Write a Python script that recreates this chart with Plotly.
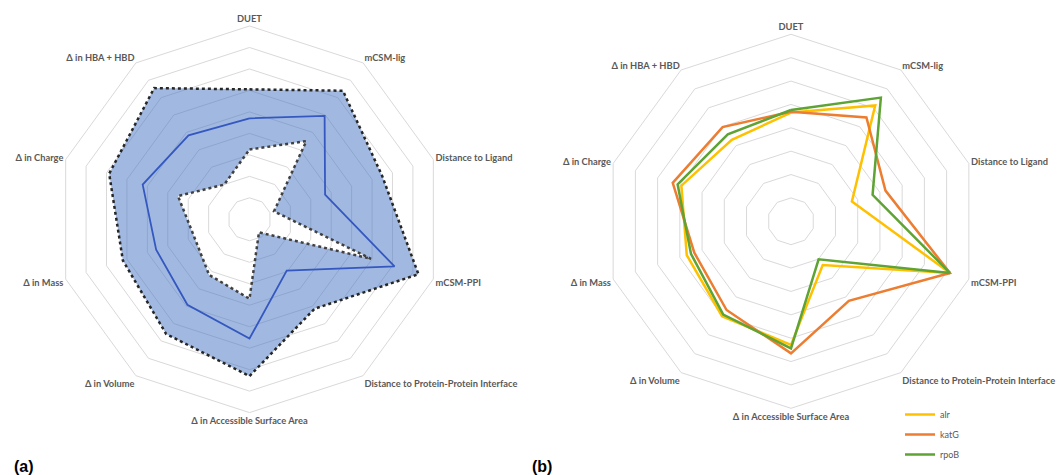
import plotly.graph_objects as go

# Radar axes, clockwise from the top
categories = [
    "DUET",
    "mCSM-lig",
    "Distance to Ligand",
    "mCSM-PPI",
    "Distance to Protein-Protein Interface",
    "Δ in Accessible Surface Area",
    "Δ in Volume",
    "Δ in Mass",
    "Δ in Charge",
    "Δ in HBA + HBD",
]

# Panel (a): range band (upper / lower bounds) and the mean profile
upper_bound = [6.05, 7.40, 6.50, 8.27, 5.15, 7.30, 6.60, 6.20, 6.87, 7.55]
mean_profile = [4.70, 5.95, 3.70, 7.10, 2.95, 5.55, 4.92, 4.57, 5.23, 4.83]
lower_bound = [3.25, 4.50, 1.20, 5.95, 0.75, 3.70, 3.20, 2.70, 3.50, 2.00]

# Panel (b): per-gene profiles
alr = [4.65, 6.13, 2.74, 7.15, 2.31, 5.29, 5.02, 4.69, 4.93, 4.31]
katG = [4.69, 5.49, 4.25, 7.15, 4.21, 5.65, 4.69, 4.35, 5.32, 4.98]
rpoB = [4.76, 6.54, 3.67, 7.15, 2.01, 5.44, 4.93, 4.50, 5.10, 4.60]

LABEL_COLOR = "#595959"
GRID_COLOR = "#d9d9d9"
FONT = "Lato"


def closed(values):
    return list(values) + [values[0]]


def closed_theta():
    return categories + [categories[0]]


fig = go.Figure()

# Band between the bounds: outer loop clockwise, inner loop counter-clockwise,
# so the non-zero fill leaves the inside of the lower bound empty.
band_theta = closed_theta() + [categories[0]] + categories[::-1]
band_r = closed(upper_bound) + [lower_bound[0]] + lower_bound[::-1]
fig.add_trace(go.Scatterpolar(
    theta=band_theta, r=band_r, mode="lines", fill="toself",
    fillcolor="rgba(68,114,196,0.5)", line=dict(width=0),
    hoverinfo="skip", showlegend=False, subplot="polar",
))
fig.add_trace(go.Scatterpolar(
    theta=closed_theta(), r=closed(upper_bound), mode="lines",
    line=dict(color="#262626", width=2.5, dash="dot"),
    showlegend=False, subplot="polar", name="upper",
))
fig.add_trace(go.Scatterpolar(
    theta=closed_theta(), r=closed(lower_bound), mode="lines",
    line=dict(color="#404040", width=2.5, dash="dot"),
    showlegend=False, subplot="polar", name="lower",
))
fig.add_trace(go.Scatterpolar(
    theta=closed_theta(), r=closed(mean_profile), mode="lines",
    line=dict(color="#3458c0", width=1.8),
    showlegend=False, subplot="polar", name="mean",
))

gene_series = [("alr", alr, "#FFC000"), ("katG", katG, "#ED7D31"), ("rpoB", rpoB, "#5EA334")]
for i, (name, vals, color) in enumerate(gene_series):
    fig.add_trace(go.Scatterpolar(
        theta=closed_theta(), r=closed(vals), mode="lines", name=name,
        line=dict(color=color, width=2.5), subplot="polar2",
        legendgroup=name,
    ))


def polar_layout(domain_x, domain_y, rmax):
    return dict(
        domain=dict(x=domain_x, y=domain_y),
        gridshape="linear",
        bgcolor="rgba(0,0,0,0)",
        angularaxis=dict(
            type="category", categoryarray=categories,
            direction="clockwise", rotation=90,
            showgrid=False, showline=True, linecolor=GRID_COLOR, linewidth=1,
            ticks="", tickfont=dict(family=FONT, size=9.3, color=LABEL_COLOR, weight="bold"),
        ),
        radialaxis=dict(
            range=[0, rmax], dtick=1, showticklabels=False, ticks="",
            showline=False, gridcolor=GRID_COLOR, gridwidth=1,
        ),
    )


W, H = 1063, 475
# panel (a): centre (249.5, 219.3), radius 193.3 ; panel (b): centre (791, 221.3), radius 187
ax, ay, ar = 249.5, 219.3, 193.3
bx, by, br = 791.0, 221.3, 187.0

fig.update_layout(
    width=W, height=H,
    margin=dict(l=0, r=0, t=0, b=0),
    paper_bgcolor="white", plot_bgcolor="white",
    polar=polar_layout([(ax - ar) / W, (ax + ar) / W], [(H - ay - ar) / H, (H - ay + ar) / H], 9),
    polar2=polar_layout([(bx - br) / W, (bx + br) / W], [(H - by - br) / H, (H - by + br) / H], 8),
    legend=dict(
        x=900 / W, y=(H - 400) / H, xanchor="left", yanchor="top",
        font=dict(family=FONT, size=9, color=LABEL_COLOR),
        bgcolor="rgba(0,0,0,0)", tracegroupgap=1, itemwidth=30,
    ),
    annotations=[
        dict(text="<b>(a)</b>", x=12 / W, y=(H - 466) / H, xref="paper", yref="paper",
             xanchor="left", yanchor="middle", showarrow=False,
             font=dict(family="Liberation Sans", size=16, color="black")),
        dict(text="<b>(b)</b>", x=530 / W, y=(H - 466) / H, xref="paper", yref="paper",
             xanchor="left", yanchor="middle", showarrow=False,
             font=dict(family="Liberation Sans", size=16, color="black")),
    ],
)

fig.write_html("out.html")
